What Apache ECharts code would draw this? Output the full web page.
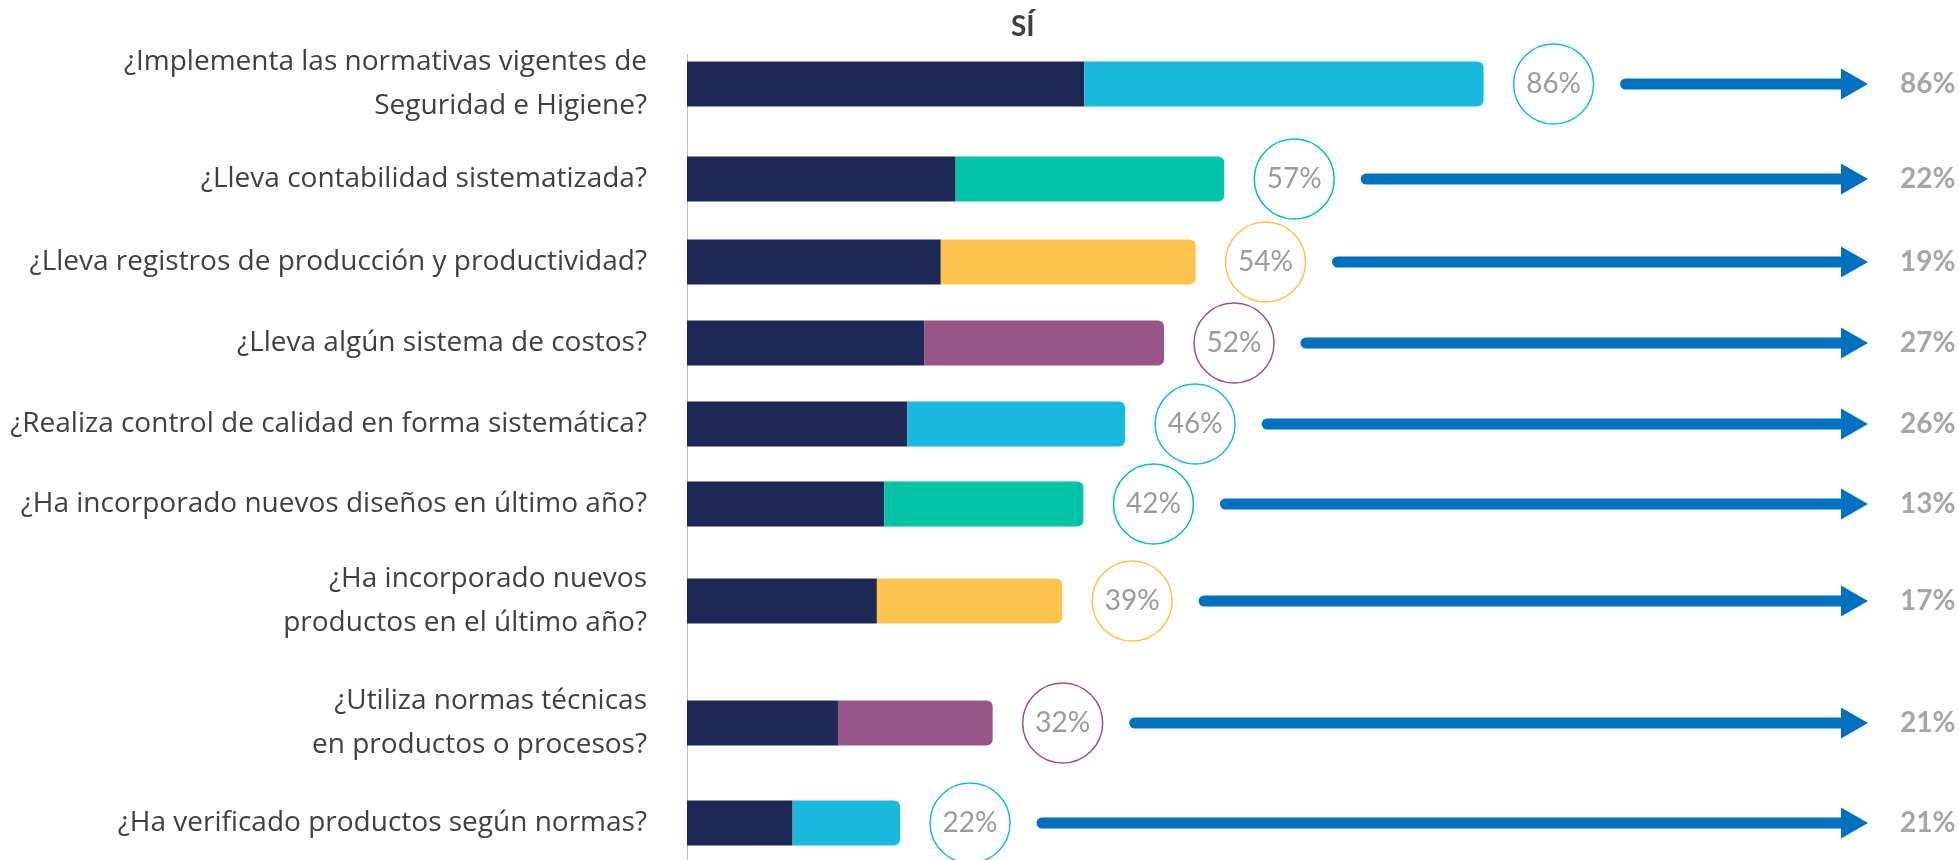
<!DOCTYPE html>
<html>
<head>
<meta charset="utf-8">
<script src="https://cdn.jsdelivr.net/npm/echarts@6/dist/echarts.min.js"></script>
<style>
  html, body { margin: 0; padding: 0; background: #fff; }
  #chart { width: 1959px; height: 860px; }
</style>
</head>
<body>
<div id="chart"></div>
<script>
const questions = [
  '¿Implementa las normativas vigentes de\nSeguridad e Higiene?',
  '¿Lleva contabilidad sistematizada?',
  '¿Lleva registros de producción y productividad?',
  '¿Lleva algún sistema de costos?',
  '¿Realiza control de calidad en forma sistemática?',
  '¿Ha incorporado nuevos diseños en último año?',
  '¿Ha incorporado nuevos\nproductos en el último año?',
  '¿Utiliza normas técnicas\nen productos o procesos?',
  '¿Ha verificado productos según normas?'
]
// circle labels (SÍ)
const siValues = [86, 57, 54, 52, 46, 42, 39, 32, 22]
// the two stacked parts of each bar
const navyPart = [42.9, 29, 27.4, 25.6, 23.8, 21.3, 20.5, 16.3, 11.4]
const colorPart = [43.1, 29, 27.5, 25.9, 23.5, 21.5, 20, 16.7, 11.6]
// value at the arrow tip
const arrowValues = [86, 22, 19, 27, 26, 13, 17, 21, 21]

const NAVY = '#1D2856'
const rowColors = ['#1ABADF', '#00C3A8', '#FCC44D', '#975588']
const ARROW = '#0070C0'
const FONT = 'Lato, "Open Sans", sans-serif'
const LABEL_FONT = '"Open Sans", sans-serif'

// layout (pixels)
const rowCenters = [84, 179, 262, 343, 424, 504, 601, 723, 823]
const AXIS_X = 687
const PLOT_W = 1269
const X_MAX = 137
const CIRCLE_GAP = 70
const ARROW_BASE = 1841
const ARROW_TIP = 1868
const RIGHT_LABEL_X = 1900

const chart = echarts.init(document.getElementById('chart'))

let grids = [], xAxes = [], yAxes = [], series = []

questions.forEach((q, i) => {
  const col = rowColors[i % rowColors.length]
  grids.push({ left: AXIS_X, width: PLOT_W, top: rowCenters[i] - 40, height: 80, outerBoundsMode: 'none' })
  xAxes.push({ gridIndex: i, type: 'value', min: 0, max: X_MAX, show: false })
  yAxes.push({
    gridIndex: i,
    type: 'category',
    data: [q],
    axisLine: { show: false },
    axisTick: { show: false },
    axisLabel: { margin: 40, fontSize: 28, color: '#404040', fontFamily: LABEL_FONT, lineHeight: 44, align: 'right' }
  })
  series.push({
    type: 'bar', xAxisIndex: i, yAxisIndex: i, stack: 'r' + i,
    barWidth: 45, data: [navyPart[i]],
    itemStyle: { color: NAVY }, silent: true
  })
  series.push({
    type: 'bar', xAxisIndex: i, yAxisIndex: i, stack: 'r' + i,
    barWidth: 45, data: [colorPart[i]],
    itemStyle: { color: col, borderRadius: [0, 6, 6, 0] }, silent: true
  })
  series.push({
    type: 'custom', xAxisIndex: i, yAxisIndex: i, clip: false, silent: true,
    data: [[navyPart[i] + colorPart[i], 0, siValues[i], arrowValues[i]]],
    renderItem(params, api) {
      const p = api.coord([api.value(0), api.value(1)])
      const cx = p[0] + CIRCLE_GAP
      const y = p[1]
      return {
        type: 'group',
        children: [
          { type: 'circle', shape: { cx: cx, cy: y, r: 40 }, style: { fill: '#fff', stroke: col, lineWidth: 1.5 } },
          { type: 'text', x: cx, y: y, style: { text: api.value(2) + '%', fill: '#9b9b9b', font: '28px ' + FONT, align: 'center', verticalAlign: 'middle' } },
          { type: 'line', shape: { x1: cx + 72, y1: y, x2: ARROW_BASE + 2, y2: y }, style: { stroke: ARROW, lineWidth: 11, lineCap: 'round' } },
          { type: 'polygon', shape: { points: [[ARROW_BASE, y - 15.5], [ARROW_TIP, y], [ARROW_BASE, y + 15.5]] }, style: { fill: ARROW } },
          { type: 'text', x: RIGHT_LABEL_X, y: y, style: { text: api.value(3) + '%', fill: '#a6a6a6', font: 'bold 28px ' + FONT, align: 'left', verticalAlign: 'middle' } }
        ]
      }
    }
  })
})

// grid that only carries the vertical axis line
grids.push({ left: AXIS_X, width: PLOT_W, top: 55, bottom: 0, outerBoundsMode: 'none' })
xAxes.push({ gridIndex: 9, type: 'value', show: false })
yAxes.push({
  gridIndex: 9, type: 'value',
  axisLine: { show: true, lineStyle: { color: '#BFBFBF', width: 1 } },
  axisTick: { show: false }, axisLabel: { show: false }, splitLine: { show: false }
})

chart.setOption({
  animation: false,
  title: {
    text: 'SÍ', left: 1006, top: 8,
    textStyle: { fontSize: 28, fontWeight: 'bold', color: '#404040', fontFamily: FONT }
  },
  grid: grids,
  xAxis: xAxes,
  yAxis: yAxes,
  series: series
})
</script>
</body>
</html>
